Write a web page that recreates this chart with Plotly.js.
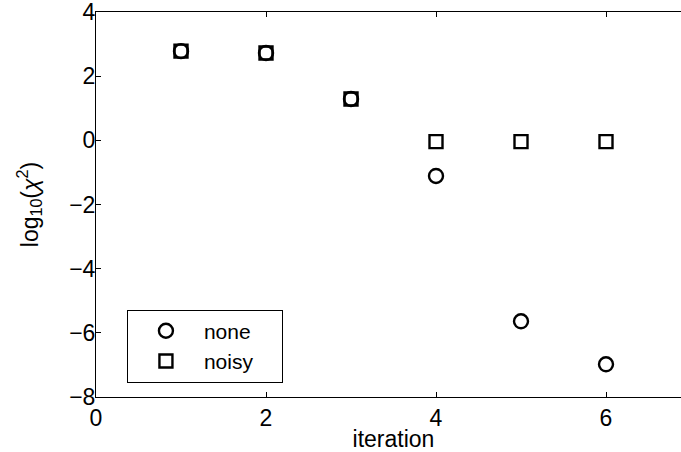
<!DOCTYPE html>
<html>
<head>
<meta charset="utf-8">
<script src="https://cdn.plot.ly/plotly-3.0.1.min.js"></script>
<style>
  html, body { margin: 0; padding: 0; overflow: hidden; background: #fff; }
  #chart { width: 700px; height: 452px; }
</style>
</head>
<body>
<div id="chart"></div>
<script>
// Convergence of log10(chi^2) per iteration, with and without noise
const iterations = [1, 2, 3, 4, 5, 6];
const chiNone  = [2.78, 2.72, 1.29, -1.11, -5.64, -6.98];
const chiNoisy = [2.78, 2.72, 1.29, -0.04, -0.04, -0.04];
const seriesNames = ['none', 'noisy\u00a0\u00a0\u00a0\u00a0'];
const xTicks = [0, 2, 4, 6];
const yTicks = [-8, -6, -4, -2, 0, 2, 4];

const FONT = 'Liberation Sans, Arial, Helvetica, sans-serif';
const SIZE = 23;

const traces = [
  {
    x: iterations, y: chiNone, name: seriesNames[0],
    type: 'scatter', mode: 'markers',
    marker: { symbol: 'circle-open', size: 14, color: '#000', line: { width: 2.4, color: '#000' } }
  },
  {
    x: iterations, y: chiNoisy, name: seriesNames[1],
    type: 'scatter', mode: 'markers',
    marker: { symbol: 'square-open', size: 13, color: '#000', line: { width: 2.4, color: '#000' } }
  }
];

const axisCommon = {
  showgrid: false, zeroline: false,
  showline: true, linecolor: '#000', linewidth: 1,
  mirror: 'ticks', ticks: 'inside', ticklen: 5, tickcolor: '#000', tickwidth: 1,
  ticklabeloverflow: 'allow',
  tickfont: { family: FONT, size: SIZE, color: '#000' }
};

const layout = {
  width: 700, height: 452,
  margin: { l: 96, r: 9, t: 12, b: 55 },
  paper_bgcolor: '#fff', plot_bgcolor: '#fff',
  font: { family: FONT, color: '#000' },
  showlegend: true,
  legend: {
    x: 0.052, y: 0.227, xanchor: 'left', yanchor: 'top',
    bordercolor: '#000', borderwidth: 1, bgcolor: '#fff',
    font: { family: FONT, size: 21, color: '#000' },
    itemwidth: 66
  },
  xaxis: Object.assign({}, axisCommon, {
    range: [0, 7], tickvals: xTicks, ticktext: xTicks.map(String),
    ticklabelstandoff: 0,
    title: { text: 'iteration', font: { family: FONT, size: SIZE, color: '#000' }, standoff: 0 }
  }),
  yaxis: Object.assign({}, axisCommon, {
    range: [-8, 4], tickvals: yTicks, ticktext: yTicks.map(v => v < 0 ? '\u2212' + Math.abs(v) : String(v)),
    ticklabelstandoff: -5,
    title: { text: 'log<sub>10</sub>(<i>χ</i><sup>2</sup>)', font: { family: FONT, size: SIZE, color: '#000' }, standoff: 24 }
  })
};

Plotly.newPlot('chart', traces, layout, { staticPlot: true, displayModeBar: false });
</script>
</body>
</html>
